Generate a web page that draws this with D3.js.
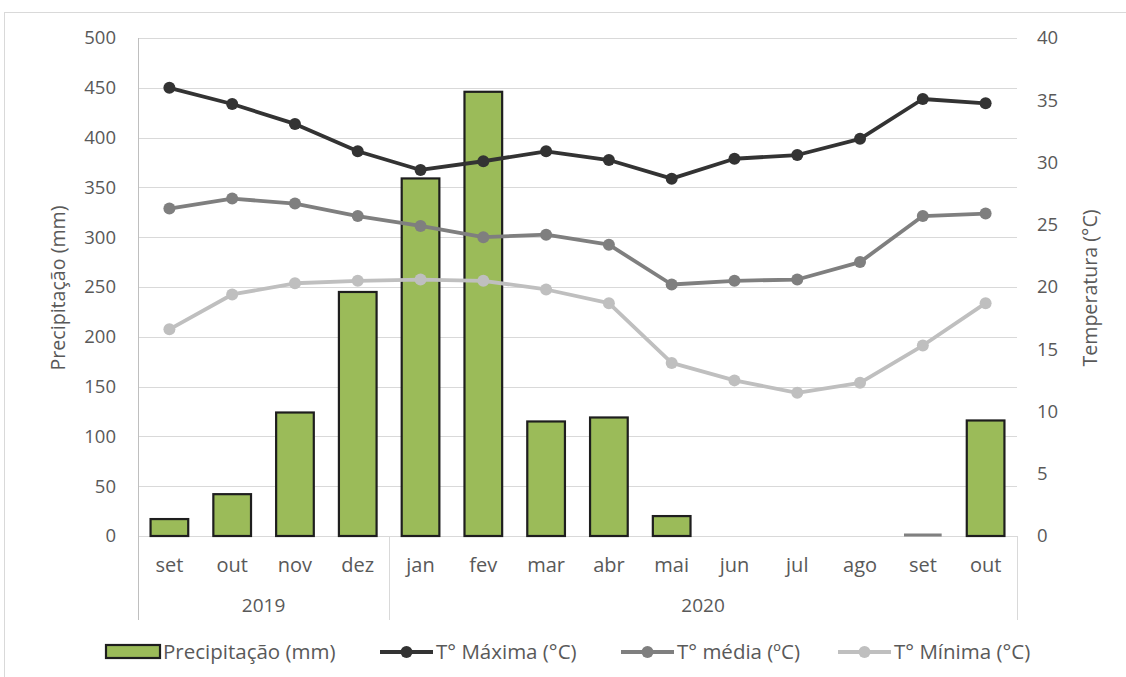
<!DOCTYPE html>
<html>
<head>
<meta charset="utf-8">
<script src="https://cdn.jsdelivr.net/npm/d3@7"></script>
<style>
  html, body { margin: 0; padding: 0; background: #fff; }
  svg { display: block; }
  text { font-family: "Open Sans", "Noto Sans", sans-serif; fill: #595959; }
</style>
</head>
<body>
<svg id="chart" width="1126" height="677"></svg>
<script>
// Monthly categories (Sep 2019 – Oct 2020)
const months = ["set", "out", "nov", "dez", "jan", "fev", "mar", "abr", "mai", "jun", "jul", "ago", "set", "out"];
const yearLabels = ["2019", "2020"];
const yearSpans = [4, 10];

// Rainfall (mm); null = no record for the month
const precipitacao = [17, 42, 124, 245, 359, 446, 115, 119, 20, null, null, null, 0, 116];

// Temperatures (°C)
const tMaxima = [36.0, 34.7, 33.1, 30.9, 29.4, 30.1, 30.9, 30.2, 28.7, 30.3, 30.6, 31.9, 35.1, 34.75];
const tMedia  = [26.3, 27.1, 26.7, 25.7, 24.9, 24.0, 24.2, 23.4, 20.2, 20.5, 20.6, 22.0, 25.7, 25.9];
const tMinima = [16.6, 19.4, 20.3, 20.5, 20.6, 20.5, 19.8, 18.7, 13.9, 12.5, 11.5, 12.3, 15.3, 18.7];

const precipTicks = d3.range(0, 501, 50);
const tempTicks = d3.range(0, 41, 5);

const series = [
  { name: "T° Máxima (°C)", values: tMaxima, color: "#333333" },
  { name: "T° média (ºC)", values: tMedia, color: "#7f7f7f" },
  { name: "T° Mínima (°C)", values: tMinima, color: "#bfbfbf" }
];

const svg = d3.select("#chart");
const plot = { left: 138, right: 1017, top: 38, bottom: 536 };

// outer frame
svg.append("rect")
  .attr("x", 4.5).attr("y", 12.5)
  .attr("width", 1130).attr("height", 700)
  .attr("fill", "none").attr("stroke", "#d9d9d9");

const x = d3.scaleBand()
  .domain(d3.range(months.length))
  .range([plot.left, plot.right])
  .paddingInner(0.4)
  .paddingOuter(0.2);

const yP = d3.scaleLinear().domain([0, 500]).range([plot.bottom, plot.top]);
const yT = d3.scaleLinear().domain([0, 40]).range([plot.bottom, plot.top]);

// horizontal gridlines
svg.append("g")
  .selectAll("line")
  .data(precipTicks.filter(d => d > 0))
  .join("line")
  .attr("x1", plot.left).attr("x2", plot.right)
  .attr("y1", d => Math.round(yP(d)) + 0.5).attr("y2", d => Math.round(yP(d)) + 0.5)
  .attr("stroke", "#d9d9d9").attr("stroke-width", 1);

// left axis
const axL = svg.append("g")
  .attr("transform", `translate(${plot.left},0)`)
  .call(d3.axisLeft(yP).tickValues(precipTicks).tickSize(0).tickPadding(22));
axL.select(".domain").remove();
axL.selectAll("text").style("font-size", "18.5px").attr("fill", "#595959");

// right axis
const axR = svg.append("g")
  .attr("transform", `translate(${plot.right},0)`)
  .call(d3.axisRight(yT).tickValues(tempTicks).tickSize(0).tickPadding(20));
axR.select(".domain").remove();
axR.selectAll("text").style("font-size", "18.5px").attr("fill", "#595959");

// category axis frame: baseline, left axis line, year separators
svg.append("line")
  .attr("x1", plot.left).attr("x2", plot.right)
  .attr("y1", plot.bottom + 0.5).attr("y2", plot.bottom + 0.5)
  .attr("stroke", "#d9d9d9");

const axisBottomExt = 620;
svg.append("line")
  .attr("x1", plot.left + 0.5).attr("x2", plot.left + 0.5)
  .attr("y1", plot.top).attr("y2", axisBottomExt)
  .attr("stroke", "#bfbfbf");

let acc = 0;
const yearBounds = [0];
yearSpans.forEach(n => { acc += n; yearBounds.push(acc); });
const edgeX = i => i === 0 ? plot.left : (i === months.length ? plot.right : x(i) - x.step() * x.paddingInner() / 2);

svg.append("g")
  .selectAll("line")
  .data(yearBounds.slice(1))
  .join("line")
  .attr("x1", d => Math.round(edgeX(d)) + 0.5).attr("x2", d => Math.round(edgeX(d)) + 0.5)
  .attr("y1", plot.bottom).attr("y2", axisBottomExt)
  .attr("stroke", "#d9d9d9");

// month labels
svg.append("g")
  .selectAll("text")
  .data(months)
  .join("text")
  .attr("x", (d, i) => x(i) + x.bandwidth() / 2)
  .attr("y", 572)
  .attr("text-anchor", "middle")
  .style("font-size", "20px")
  .text(d => d);

// year labels
svg.append("g")
  .selectAll("text")
  .data(yearLabels)
  .join("text")
  .attr("x", (d, i) => (edgeX(yearBounds[i]) + edgeX(yearBounds[i + 1])) / 2)
  .attr("y", 612)
  .attr("text-anchor", "middle")
  .style("font-size", "19px")
  .text(d => d);

// axis titles
svg.append("text")
  .attr("transform", "translate(65,288) rotate(-90)")
  .attr("text-anchor", "middle")
  .style("font-size", "19.6px")
  .text("Precipitação (mm)");

svg.append("text")
  .attr("transform", "translate(1097,288) rotate(-90)")
  .attr("text-anchor", "middle")
  .style("font-size", "19.6px")
  .text("Temperatura (°C)");

// rainfall bars
const barData = precipitacao.map((v, i) => ({ v, i })).filter(d => d.v !== null);
svg.append("g")
  .selectAll("rect")
  .data(barData.filter(d => d.v > 0))
  .join("rect")
  .attr("x", d => x(d.i))
  .attr("y", d => yP(d.v))
  .attr("width", x.bandwidth())
  .attr("height", d => yP(0) - yP(d.v))
  .attr("fill", "#9bbb59")
  .attr("stroke", "#1e1e1e")
  .attr("stroke-width", 2.2);

// zero-rainfall months show only a flat outline
svg.append("g")
  .selectAll("line")
  .data(barData.filter(d => d.v === 0))
  .join("line")
  .attr("x1", d => x(d.i)).attr("x2", d => x(d.i) + x.bandwidth())
  .attr("y1", d => yP(d.v) - 1).attr("y2", d => yP(d.v) - 1)
  .attr("stroke", "#808080").attr("stroke-width", 3);

// temperature lines
const line = d3.line()
  .x((d, i) => x(i) + x.bandwidth() / 2)
  .y(d => yT(d));

series.forEach(s => {
  const g = svg.append("g");
  g.append("path")
    .attr("d", line(s.values))
    .attr("fill", "none")
    .attr("stroke", s.color)
    .attr("stroke-width", 3.8)
    .attr("stroke-linejoin", "round");
  g.selectAll("circle")
    .data(s.values)
    .join("circle")
    .attr("cx", (d, i) => x(i) + x.bandwidth() / 2)
    .attr("cy", d => yT(d))
    .attr("r", 6)
    .attr("fill", s.color);
});

// legend
const legY = 652;
const leg = svg.append("g");
leg.append("rect")
  .attr("x", 106).attr("y", legY - 7)
  .attr("width", 54).attr("height", 13)
  .attr("fill", "#9bbb59").attr("stroke", "#1e1e1e").attr("stroke-width", 2.2);
leg.append("text")
  .attr("x", 163).attr("y", legY + 7)
  .style("font-size", "20.5px")
  .text("Precipitação (mm)");

const legendLineX = [380, 621, 838];
series.forEach((s, k) => {
  const lx = legendLineX[k];
  leg.append("line")
    .attr("x1", lx).attr("x2", lx + 53)
    .attr("y1", legY).attr("y2", legY)
    .attr("stroke", s.color).attr("stroke-width", 3.8);
  leg.append("circle")
    .attr("cx", lx + 26.5).attr("cy", legY).attr("r", 6)
    .attr("fill", s.color);
  leg.append("text")
    .attr("x", lx + 56).attr("y", legY + 7)
    .style("font-size", "20.5px")
    .text(s.name);
});
</script>
</body>
</html>
